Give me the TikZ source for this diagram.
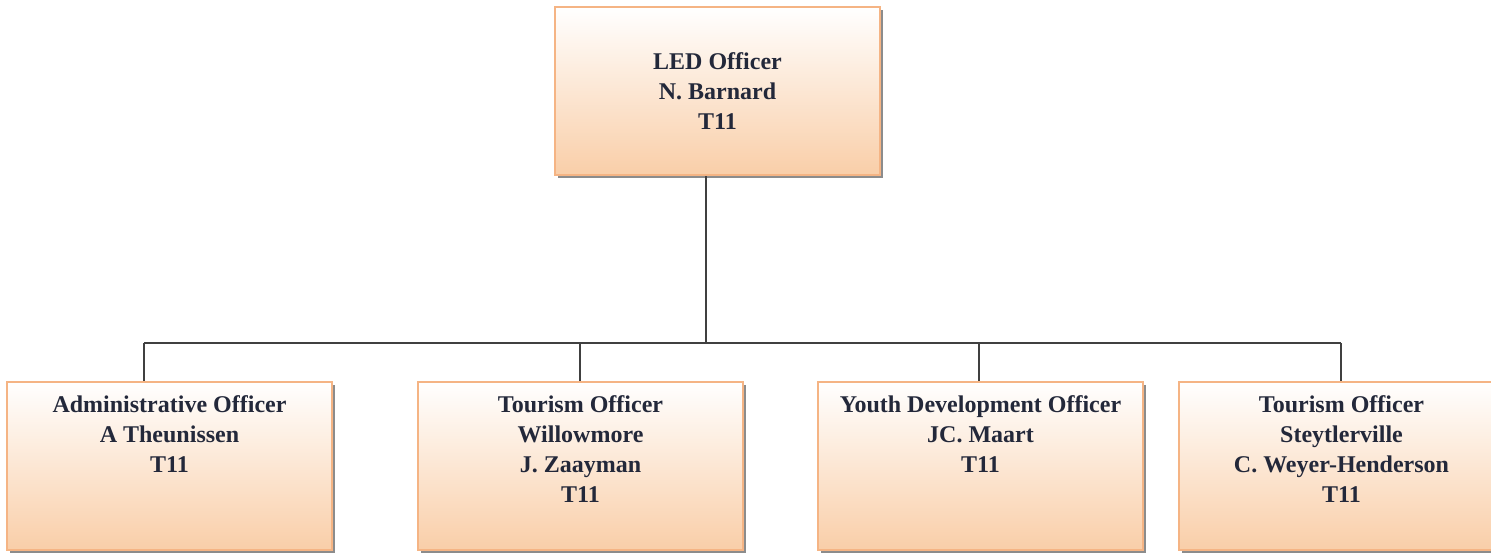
\documentclass[tikz,border=0pt]{standalone}
\usepackage{fontspec}
\setmainfont{Liberation Serif}
\usepackage{tikz}
\usetikzlibrary{shadows}
\definecolor{peach}{RGB}{249,206,168}
\definecolor{peachline}{RGB}{245,180,132}
\definecolor{ink}{RGB}{35,40,58}

\begin{document}
\begin{tikzpicture}[x=0.5pt,y=-0.5pt,
  post/.style={draw=peachline,line width=0.8pt,top color=white,bottom color=peach,
    minimum width=162.5pt,minimum height=84pt,inner sep=0pt,
    drop shadow={shadow xshift=1.5pt,shadow yshift=-1.5pt,fill=black!45,opacity=1}},
  who/.style={align=center,text=ink,inner sep=0pt,
    font=\bfseries\fontsize{12}{15}\selectfont},
  link/.style={draw=black!75,line width=0.9pt}]
\useasboundingbox (0,0) rectangle (1491,553);

\node[post] (led) at (717.5,91) {};
\node[who] (ledname) at (led) {LED Officer\\N. Barnard\\T11};

\node[post] (adm) at (169.5,466) {};
\node[post] (willow) at (580.5,466) {};
\node[post] (youth) at (980.5,466) {};
\node[post] (steyt) at (1341.5,466) {};

\node[who,anchor=north] (admname) at ([yshift=-7pt]adm.north) {Administrative Officer\\A Theunissen\\T11};
\node[who,anchor=north] (willowname) at ([yshift=-7pt]willow.north) {Tourism Officer\\Willowmore\\J. Zaayman\\T11};
\node[who,anchor=north] (youthname) at ([yshift=-7pt]youth.north) {Youth Development Officer\\JC. Maart\\T11};
\node[who,anchor=north] (steytname) at ([yshift=-7pt]steyt.north) {Tourism Officer\\Steytlerville\\C. Weyer-Henderson\\T11};

\coordinate (hub) at (706,343);
\coordinate (j1) at (144,343);
\coordinate (j2) at (580,343);
\coordinate (j3) at (979,343);
\coordinate (j4) at (1341,343);

\draw[link] (hub) -- (hub |- led.south);
\draw[link] (j1) -- (j4);
\draw[link] (j1) -- (j1 |- adm.north);
\draw[link] (j2) -- (j2 |- willow.north);
\draw[link] (j3) -- (j3 |- youth.north);
\draw[link] (j4) -- (j4 |- steyt.north);
\end{tikzpicture}
\end{document}
